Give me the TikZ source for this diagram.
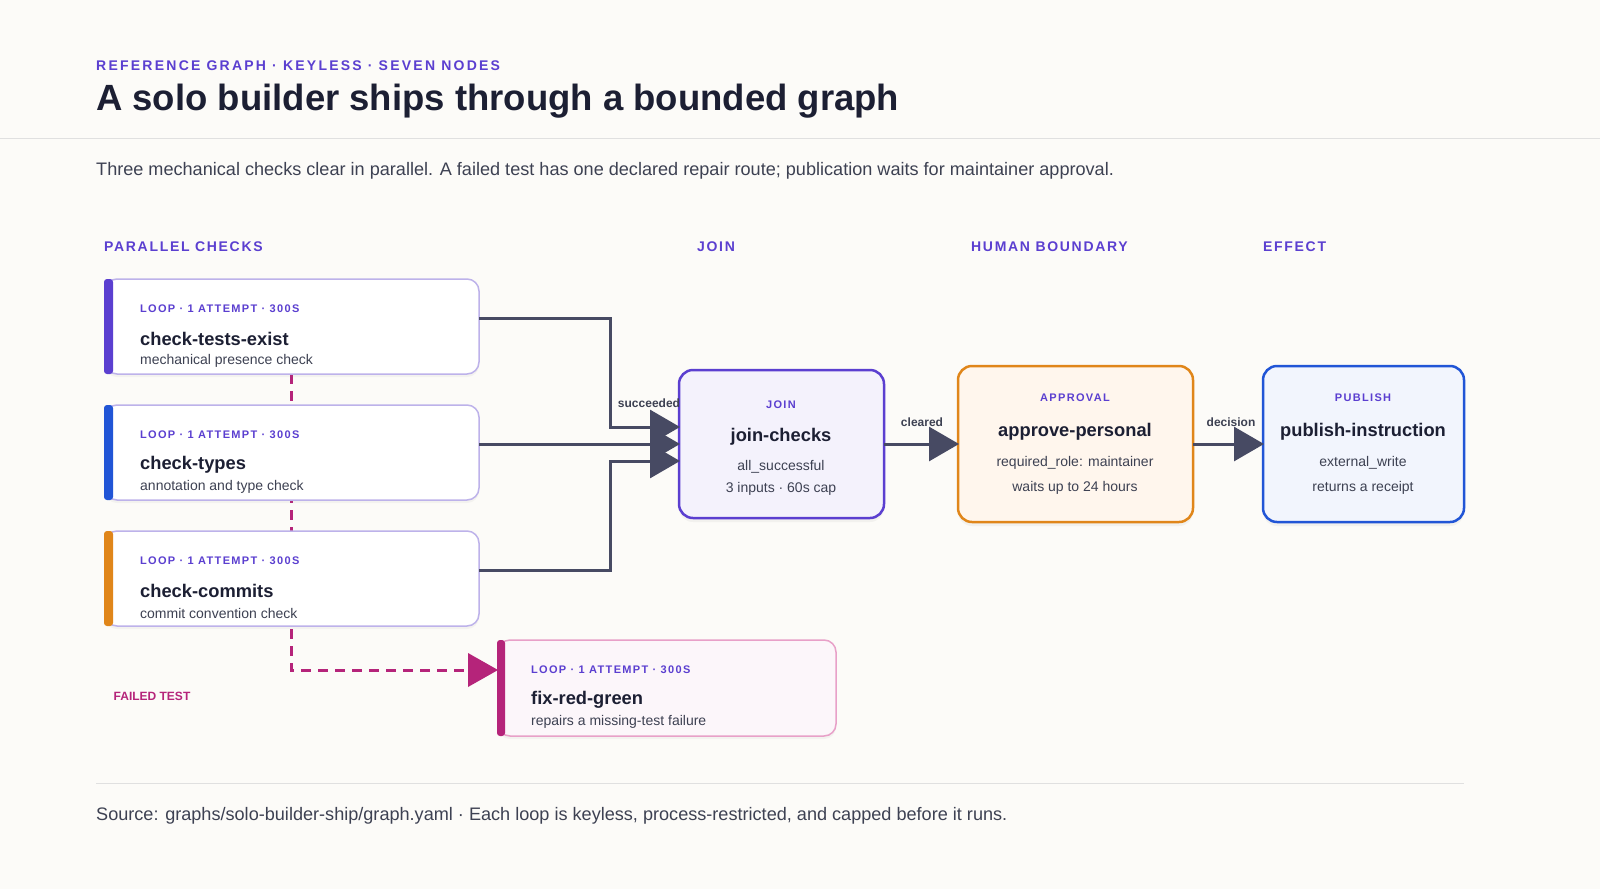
\documentclass[tikz,border=0pt]{standalone}
\usepackage{fontspec}
\setmainfont{Liberation Sans}
\newfontfamily\spaced[LetterSpace=12]{Liberation Sans}
\newfontfamily\spacedw[LetterSpace=16]{Liberation Sans}
\usetikzlibrary{arrows.meta,shadows}
\definecolor{bg}{HTML}{FCFBF8}
\definecolor{purp}{HTML}{5B3FD0}
\definecolor{ink}{HTML}{1C1F33}
\definecolor{gr}{HTML}{3D4152}
\definecolor{edge}{HTML}{474A63}
\definecolor{mag}{HTML}{B5247A}
\definecolor{cardb}{HTML}{BDB2EA}
\definecolor{orng}{HTML}{E0861A}
\definecolor{blu}{HTML}{2155D6}
\definecolor{pinkb}{HTML}{E8A0C8}
\tikzset{
 x=1pt,y=-1pt,
 card/.style={draw=cardb,line width=1.5pt,fill=white,rounded corners=12pt,drop shadow={opacity=0.07,shadow xshift=0pt,shadow yshift=-3pt}},
 kick/.style={anchor=west,font=\spaced\fontsize{11}{13}\bfseries,text=purp,inner sep=0},
 nm/.style={anchor=west,font=\fontsize{18.3}{21}\bfseries,text=ink,inner sep=0},
 ds/.style={anchor=west,font=\fontsize{14}{16}\selectfont,text=gr,inner sep=0},
 colh/.style={anchor=west,font=\spaced\fontsize{14}{16}\bfseries,text=purp,inner sep=0},
 big/.style={rounded corners=14pt,line width=2.5pt,drop shadow={opacity=0.08,shadow xshift=0pt,shadow yshift=-4pt}},
 ck/.style={anchor=center,font=\spaced\fontsize{11}{13}\bfseries,text=purp,inner sep=0},
 cn/.style={anchor=center,font=\fontsize{18.3}{21}\bfseries,text=ink,inner sep=0},
 cd/.style={anchor=center,font=\fontsize{14}{16}\selectfont,text=gr,inner sep=0},
 conn/.style={draw=edge,line width=3pt,-{Triangle[length=30pt,width=34pt]}},
 el/.style={font=\fontsize{12}{14}\bfseries,text=gr,inner sep=0},
}
\begin{document}
\begin{tikzpicture}
\fill[bg] (0,0) rectangle (1600,889);
\useasboundingbox (0,0) rectangle (1600,889);
\node[anchor=west,font=\spacedw\fontsize{14}{16}\bfseries,text=purp,inner sep=0] (kick) at (96,66) {REFERENCE GRAPH · KEYLESS · SEVEN NODES};
\node[anchor=west,font=\fontsize{36.5}{42}\bfseries,text=ink,inner sep=0] (title) at (96,101) {A solo builder ships through a bounded graph};
\draw[black!12,line width=1pt] (0,138) -- (1600,138);
\node[anchor=west,font=\fontsize{18.1}{21}\selectfont,text=gr,inner sep=0] (sub) at (96,171) {Three mechanical checks clear in parallel. A failed test has one declared repair route; publication waits for maintainer approval.};
\node[colh] (h1) at (104,247) {PARALLEL CHECKS};
\node[colh] (h2) at (697,247) {JOIN};
\node[colh] (h3) at (971,247) {HUMAN BOUNDARY};
\node[colh] (h4) at (1263,247) {EFFECT};
% dashed failure route
\coordinate (dtop) at (291,374);
\coordinate (dbend) at (291,670);
\coordinate (fixin) at (498,670);
\draw[mag,line width=3pt,dash pattern=on 10pt off 7pt] (dtop) -- (dbend) -- ([xshift=-30pt]fixin);
% cards
\foreach \y/\c/\n/\d/\id in {279/purp/check-tests-exist/mechanical presence check/c1,405/blu/check-types/annotation and type check/c2,531/orng/check-commits/commit convention check/c3}{
 \path[card] (105,\y) rectangle (479,\y+95);
 \fill[\c,rounded corners=3pt] (104,\y) rectangle (113,\y+95);
 \node[kick] (\id k) at (140,\y+30) {LOOP · 1 ATTEMPT · 300S};
 \node[nm] (\id n) at (140,\y+60) {\n};
 \node[ds] (\id d) at (140,\y+82) {\d};
}
\coordinate (c1o) at (479,318);
\coordinate (c2o) at (479,444);
\coordinate (c3o) at (479,570);
% fix card
\path[card,draw=pinkb,fill=white!96!mag] (498,640) rectangle (836,736);
\fill[mag,rounded corners=3pt] (497,640) rectangle (505,736);
\node[kick] (fk) at (531,670) {LOOP · 1 ATTEMPT · 300S};
\node[nm] (fn) at (531,700) {fix-red-green};
\node[ds] (fd) at (531,722) {repairs a missing-test failure};
\draw[mag,line width=0pt,-{Triangle[length=30pt,width=34pt]}] ([xshift=-30pt]fixin) -- (fixin);
\node[anchor=center,font=\fontsize{12}{14}\bfseries,text=mag,inner sep=0] (ft) at (152,696) {FAILED TEST};
% join
\path[big,draw=purp,fill=purp!7] (679,370) rectangle (884,518);
\node[ck] (jk) at (781,405) {JOIN};
\node[cn] (jn) at (781,437) {join-checks};
\node[cd] (jd1) at (781,467) {all\_successful};
\node[cd] (jd2) at (781,489) {3 inputs · 60s cap};
% approval
\path[big,draw=orng,fill=orange!7] (958,366) rectangle (1193,522);
\node[ck] (ak) at (1075,398) {APPROVAL};
\node[cn] (an) at (1075,432) {approve-personal};
\node[cd] (ad1) at (1075,463) {required\_role: maintainer};
\node[cd] (ad2) at (1075,488) {waits up to 24 hours};
% publish
\path[big,draw=blu,fill=blu!6] (1263,366) rectangle (1464,522);
\node[ck] (pk) at (1363,398) {PUBLISH};
\node[cn] (pn) at (1363,432) {publish-instruction};
\node[cd] (pd1) at (1363,463) {external\_write};
\node[cd] (pd2) at (1363,488) {returns a receipt};
\coordinate (j1) at (680,427);
\coordinate (j2) at (680,444);
\coordinate (j3) at (680,461);
\coordinate (jo) at (884,444);
\coordinate (ai) at (959,444);
\coordinate (ao) at (1193,444);
\coordinate (pi) at (1264,444);
\draw[conn] (c1o) -| (610,427) -- (j1);
\draw[conn] (c2o) -- (j2);
\draw[conn] (c3o) -| (610,461) -- (j3);
\draw[conn] (jo) -- (ai);
\draw[conn] (ao) -- (pi);
\node[el] (l1) at (649,403) {succeeded};
\node[el] (l2) at (922,422) {cleared};
\node[el] (l3) at (1231,422) {decision};
% footer
\draw[black!12,line width=1pt] (96,783) -- (1464,783);
\node[anchor=west,font=\fontsize{18.1}{21}\selectfont,text=gr,inner sep=0] (foot) at (96,816) {Source: graphs/solo-builder-ship/graph.yaml · Each loop is keyless, process-restricted, and capped before it runs.};
\end{tikzpicture}
\end{document}
